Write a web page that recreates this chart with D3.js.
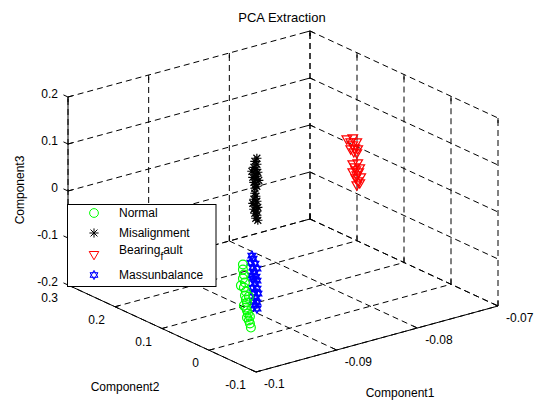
<!DOCTYPE html>
<html><head><meta charset="utf-8">
<script src="https://cdn.jsdelivr.net/npm/d3@7"></script>
<style>body{margin:0;background:#fff}svg{display:block}text{font-family:"Liberation Sans",Arial,Helvetica,sans-serif}</style>
</head><body>
<script>
// ---- data ----
const title = "PCA Extraction";
const xLabel = "Component1", yLabel = "Component2", zLabel = "Component3";
const xTicks = [-0.1, -0.09, -0.08, -0.07];
const xTickLabels = ["-0.1", "-0.09", "-0.08", "-0.07"];
const yTicks = [-0.1, 0, 0.1, 0.2, 0.3];
const yTickLabels = ["-0.1", "0", "0.1", "0.2", "0.3"];
const zTicks = [-0.2, -0.1, 0, 0.1, 0.2];
const zTickLabels = ["-0.2", "-0.1", "0", "0.1", "0.2"];
const seriesNames = ["Normal", "Misalignment", "Bearing_fault", "Massunbalance"];
// [Component1, Component2, Component3]
const normal = [
 [-0.09463,0.02,-0.0521],[-0.09463,0.02,-0.0628],[-0.09451,0.02,-0.0740],[-0.09463,0.02,-0.0819],
 [-0.09438,0.02,-0.0916],[-0.09488,0.02,-0.0957],[-0.09451,0.02,-0.1017],[-0.09426,0.02,-0.1113],
 [-0.09438,0.02,-0.1193],[-0.09389,0.02,-0.1237],[-0.09426,0.02,-0.1283],[-0.09413,0.02,-0.1353],
 [-0.09451,0.02,-0.1400],[-0.09426,0.02,-0.1454],[-0.09413,0.02,-0.1523],[-0.09401,0.02,-0.1593],
 [-0.09376,0.02,-0.1668],[-0.09413,0.02,-0.1672],[-0.09389,0.02,-0.1747],[-0.09376,0.02,-0.1817],
 [-0.09364,0.02,-0.1908]
];
const misalignment = [
 [-0.08824,0.1,0.1072],[-0.08849,0.1,0.1019],[-0.08824,0.1,0.0944],[-0.08861,0.1,0.0897],
 [-0.08837,0.1,0.0843],[-0.08886,0.1,0.0824],[-0.08812,0.1,0.0768],[-0.08849,0.1,0.0743],
 [-0.08824,0.1,0.0689],[-0.08874,0.1,0.0690],[-0.08837,0.1,0.0631],[-0.08800,0.1,0.0592],
 [-0.08861,0.1,0.0578],[-0.08837,0.1,0.0524],[-0.08824,0.1,0.0476],[-0.08849,0.1,0.0445],
 [-0.08849,0.1,0.0339],[-0.08837,0.1,0.0269],[-0.08861,0.1,0.0217],[-0.08824,0.1,0.0157],
 [-0.08874,0.1,0.0137],[-0.08837,0.1,0.0077],[-0.08812,0.1,0.0023],[-0.08861,0.1,0.0004],
 [-0.08824,0.1,-0.0056],[-0.08849,0.1,-0.0087],[-0.08824,0.1,-0.0141],[-0.08837,0.1,-0.0199],
 [-0.08812,0.1,-0.0253]
];
const bearingFault = [
 [-0.08292,0,0.1687],[-0.08218,0,0.1673],[-0.08243,0,0.1600],[-0.08168,0,0.1565],
 [-0.08218,0,0.1525],[-0.08193,0,0.1449],[-0.08243,0,0.1451],[-0.08156,0,0.1411],
 [-0.08205,0,0.1370],[-0.08168,0,0.1331],[-0.08218,0,0.1120],[-0.08156,0,0.1113],
 [-0.08193,0,0.1045],[-0.08131,0,0.0995],[-0.08181,0,0.0975],[-0.08218,0,0.0950],
 [-0.08144,0,0.0916],[-0.08168,0,0.0863],[-0.08119,0,0.0798],[-0.08181,0,0.0805],
 [-0.08156,0,0.0730],[-0.08131,0,0.0676],[-0.08168,0,0.0650]
];
const massunbalance = [
 [-0.09468,0,-0.0236],[-0.09455,0,-0.0306],[-0.09480,0,-0.0379],[-0.09431,0,-0.0424],
 [-0.09455,0,-0.0497],[-0.09406,0,-0.0541],[-0.09443,0,-0.0609],[-0.09468,0,-0.0662],
 [-0.09418,0,-0.0706],[-0.09455,0,-0.0731],[-0.09406,0,-0.0797],[-0.09431,0,-0.0849],
 [-0.09455,0,-0.0923],[-0.09406,0,-0.0967],[-0.09443,0,-0.1035],[-0.09394,0,-0.1079],
 [-0.09418,0,-0.1153],[-0.09455,0,-0.1199],[-0.09406,0,-0.1265],[-0.09431,0,-0.1317],
 [-0.09406,0,-0.1393]
];

// ---- setup ----
const W = 544, H = 405;
const svg = d3.select("body").append("svg").attr("width", W).attr("height", H);

const su = d3.scaleLinear().domain([-0.1, -0.07]).range([0, 1]);
const sv = d3.scaleLinear().domain([0.3, -0.1]).range([0, 1]);
const sw = d3.scaleLinear().domain([-0.2, 0.2]).range([0, 1]);
const O = [68, 285], EX = [242, -66], EY = [188, 87], EZ = [0, -188];
function P(x, y, z) {
  const a = su(x), b = sv(y), c = sw(z);
  return [O[0] + a*EX[0] + b*EY[0] + c*EZ[0], O[1] + a*EX[1] + b*EY[1] + c*EZ[1]];
}
const [x0, x1] = su.domain(), [y0, y1] = sv.domain(), [z0, z1] = sw.domain();
const line = d3.line();

// ---- grid ----
const grid = svg.append("g").attr("fill", "none").attr("stroke", "#000")
  .attr("stroke-width", 1).attr("stroke-dasharray", "6,4");
const gl = [];
xTicks.forEach(x => gl.push([P(x, y0, z0), P(x, y0, z1)]));
zTicks.forEach(z => gl.push([P(x0, y0, z), P(x1, y0, z)]));
yTicks.forEach(y => gl.push([P(x1, y, z0), P(x1, y, z1)]));
zTicks.forEach(z => gl.push([P(x1, y0, z), P(x1, y1, z)]));
xTicks.forEach(x => gl.push([P(x, y0, z0), P(x, y1, z0)]));
yTicks.forEach(y => gl.push([P(x0, y, z0), P(x1, y, z0)]));
grid.selectAll("path").data(gl).join("path").attr("d", d => line(d));

// ---- axes ----
const ax = svg.append("g").attr("fill", "none").attr("stroke", "#000").attr("stroke-width", 1);
ax.append("path").attr("d", line([P(x0, y0, z0), P(x0, y0, z1)]));
ax.append("path").attr("d", line([P(x0, y0, z0), P(x0, y1, z0)]));
ax.append("path").attr("d", line([P(x0, y1, z0), P(x1, y1, z0)]));
function unit(v){const l=Math.hypot(v[0],v[1]);return [v[0]/l,v[1]/l];}
const ux = unit(EX), uy = unit(EY), tl = 5;
function tick(p, d, len){ax.append("path").attr("d", line([p, [p[0]+d[0]*len, p[1]+d[1]*len]]));}
zTicks.forEach(z => {
  const p = P(x0, y0, z); tick(p, ux, tl); tick(p, [-uy[0], -uy[1]], tl);
  const q = P(x1, y0, z); tick(q, [-ux[0], -ux[1]], tl); tick(q, uy, tl);
});
yTicks.forEach(y => { tick(P(x0, y, z0), ux, tl); tick(P(x1, y, z0), [0, -1], tl); tick(P(x1, y, z1), [0, 1], tl); });
xTicks.forEach(x => { tick(P(x, y1, z0), [-uy[0], -uy[1]], tl); tick(P(x, y0, z1), [0, 1], tl); tick(P(x, y0, z0), [0, -1], tl); });

// ---- tick labels ----
const lab = svg.append("g").attr("font-size", 12).attr("fill", "#000");
zTicks.forEach((z, i) => { const p = P(x0, y0, z);
  lab.append("text").attr("x", p[0] - 10).attr("y", p[1] - 3).attr("dy", "0.35em")
    .attr("text-anchor", "end").text(zTickLabels[i]); });
yTicks.forEach((y, i) => { const p = P(x0, y, z0);
  lab.append("text").attr("x", p[0] - 10).attr("y", p[1] + 13).attr("dy", "0.35em")
    .attr("text-anchor", "end").text(yTickLabels[i]); });
xTicks.forEach((x, i) => { const p = P(x, y1, z0);
  lab.append("text").attr("x", p[0] + 8).attr("y", p[1] + 12).attr("dy", "0.35em")
    .attr("text-anchor", "start").text(xTickLabels[i]); });
lab.append("text").attr("x", 125).attr("y", 387).attr("dy", "0.35em").attr("text-anchor", "middle").text(yLabel);
lab.append("text").attr("x", 400).attr("y", 393).attr("dy", "0.35em").attr("text-anchor", "middle").text(xLabel);
lab.append("text").attr("transform", "translate(20,190) rotate(-90)").attr("dy", "0.35em")
  .attr("text-anchor", "middle").text(zLabel);
svg.append("text").attr("x", 282).attr("y", 17).attr("dy", "0.35em").attr("text-anchor", "middle")
  .attr("font-size", 13).text(title);

// ---- markers ----
function starPath(r){const d=r*0.75;return `M${-r},0L${r},0M0,${-r}L0,${r}M${-d},${-d}L${d},${d}M${-d},${d}L${d},${-d}`;}
function triPath(){return "M-4.8,-3.5L4.8,-3.5L0,4.8Z";}
function hexPath(r){const t=[];for(let k=0;k<2;k++){const pts=[0,1,2].map(j=>{const a=(k?Math.PI/2:-Math.PI/2)+j*2*Math.PI/3;return [r*Math.cos(a),r*Math.sin(a)];});t.push("M"+pts.map(p=>p[0].toFixed(2)+","+p[1].toFixed(2)).join("L")+"Z");}return t.join("");}
const styles = [
  {data: normal, color: "#00ff00", draw: g => g.append("circle").attr("r", 4.4)},
  {data: misalignment, color: "#000000", draw: g => g.append("path").attr("d", starPath(4.6))},
  {data: bearingFault, color: "#ff0000", draw: g => g.append("path").attr("d", triPath())},
  {data: massunbalance, color: "#0000ff", draw: g => g.append("path").attr("d", hexPath(4.6))}
];
const drawOrder = [1, 2, 3, 0];
const marks = svg.append("g").attr("fill", "none").attr("stroke-width", 1.2);
drawOrder.forEach(si => {
  const s = styles[si];
  const g = marks.append("g").attr("stroke", s.color);
  s.data.forEach(d => { const p = P(d[0], d[1], d[2]);
    s.draw(g.append("g").attr("transform", `translate(${p[0]},${p[1]})`)); });
});

// ---- legend ----
const lg = svg.append("g");
lg.append("rect").attr("x", 67.5).attr("y", 204.5).attr("width", 148.5).attr("height", 82)
  .attr("fill", "#fff").attr("stroke", "#000").attr("stroke-width", 1);
const ly = [213, 233, 255, 275];
styles.forEach((s, i) => {
  const g = lg.append("g").attr("transform", `translate(94,${ly[i]})`).attr("stroke", s.color)
    .attr("fill", "none").attr("stroke-width", 1);
  s.draw(g);
});
[0, 1, 3].forEach(i => lg.append("text").attr("x", 119).attr("y", ly[i]).attr("dy", "0.35em")
  .attr("font-size", 12).text(seriesNames[i]));
const parts = seriesNames[2].split("_");
const bt = lg.append("text").attr("x", 119).attr("y", 250).attr("dy", "0.35em").attr("font-size", 12);
bt.append("tspan").text(parts[0]);
bt.append("tspan").attr("font-size", 10).attr("dy", 6).text(parts[1][0]);
bt.append("tspan").attr("font-size", 12).attr("dy", -6).text(parts[1].slice(1));
</script>
</body></html>
